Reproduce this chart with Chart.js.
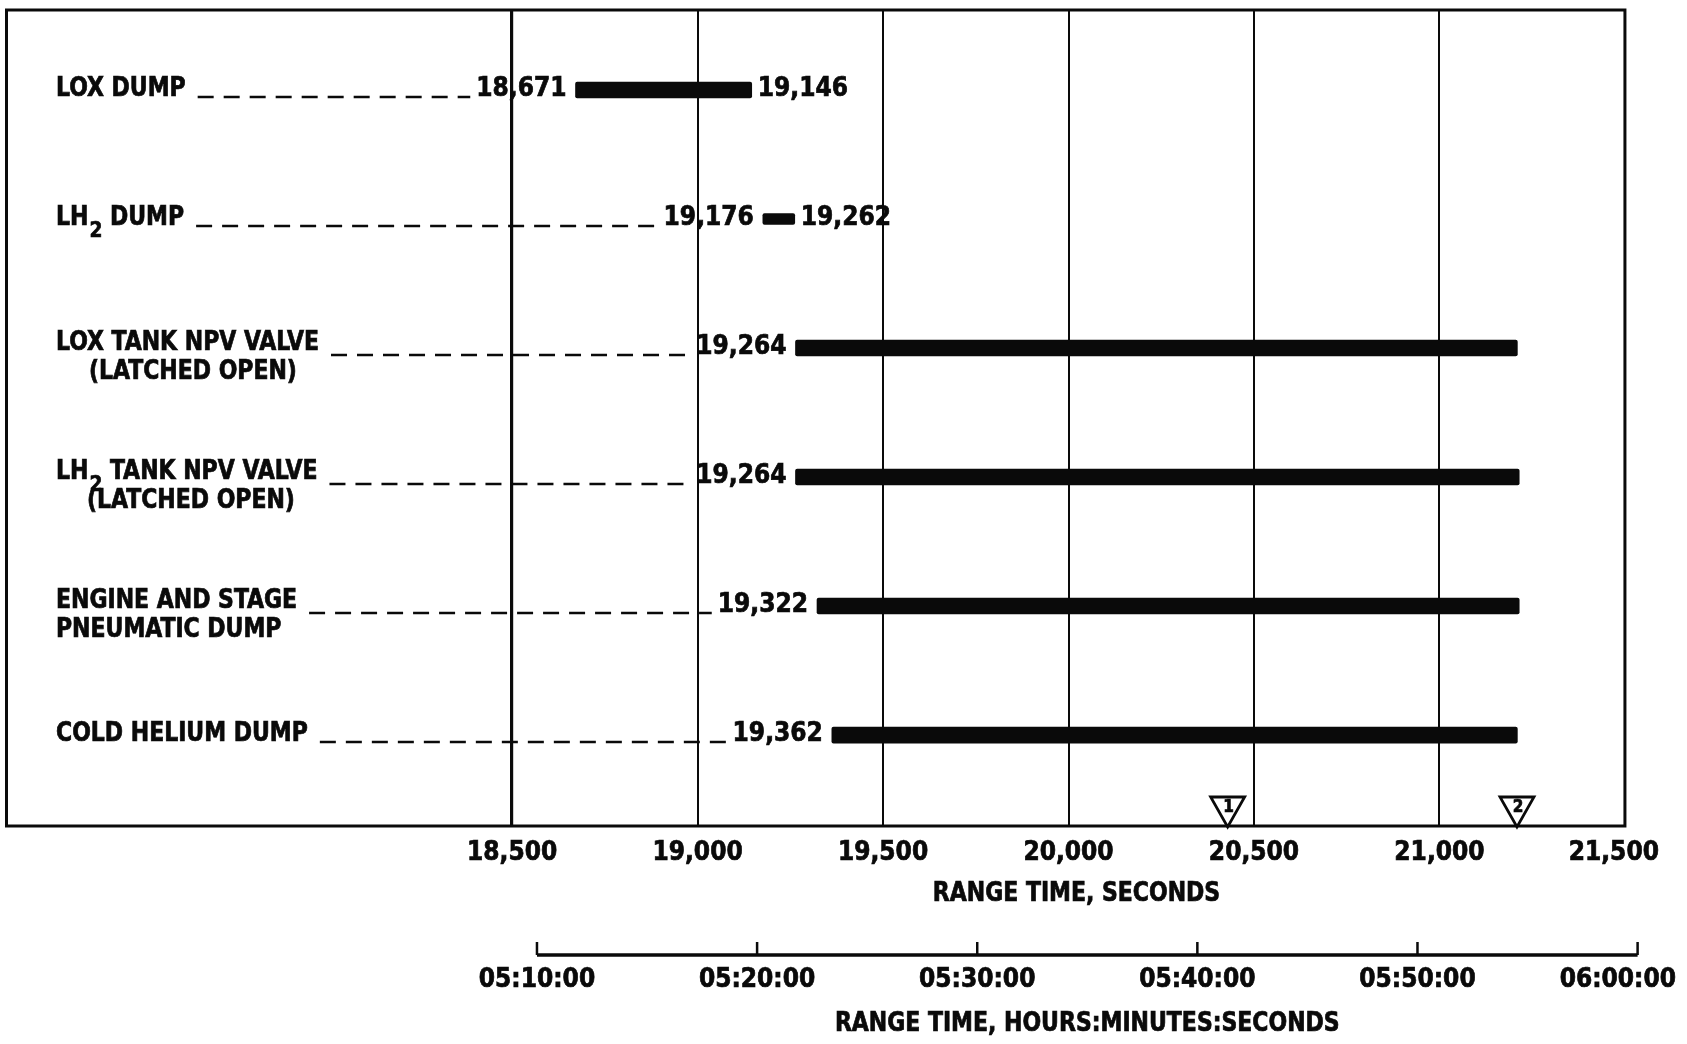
<!DOCTYPE html>
<html>
<head>
<meta charset="utf-8">
<script src="https://cdn.jsdelivr.net/npm/chart.js@4/dist/chart.umd.min.js"></script>
<style>
  html, body { margin: 0; padding: 0; background: #fff; }
  #wrap { width: 1687px; height: 1044px; }
</style>
</head>
<body>
<div id="wrap"><canvas id="c" width="1687" height="1044"></canvas></div>
<script>
// Event names, one entry per line of text
const eventNames = [
  ['LOX DUMP'],
  ['LH2 DUMP'],
  ['LOX TANK NPV VALVE', '(LATCHED OPEN)'],
  ['LH2 TANK NPV VALVE', '(LATCHED OPEN)'],
  ['ENGINE AND STAGE', 'PNEUMATIC DUMP'],
  ['COLD HELIUM DUMP']
];
// Range time, seconds
const startTimes = [18671, 19176, 19264, 19264, 19322, 19362];
const endTimes   = [19146, 19262, 21210, 21215, 21215, 21210];
const endLabelled = [true, true, false, false, false, false];
// Numbered event markers on the time axis
const markerTimes  = [20429, 21209];
const markerLabels = ['1', '2'];
// Axis ticks
const secondTicks = [18500, 19000, 19500, 20000, 20500, 21000, 21500];
const clockTicks  = [18600, 19200, 19800, 20400, 21000, 21600];
const secondsTitle = 'RANGE TIME, SECONDS';
const clockTitle   = 'RANGE TIME, HOURS:MINUTES:SECONDS';

// styling
const FONT = "'DejaVu Sans Condensed', 'Liberation Sans Narrow', 'DejaVu Sans', sans-serif";
const INK = '#0a0a0a';
const SIZE = 26;
const NAME_SQUEEZE = 0.94;
const TEXT_WEIGHT = 0.7;   // extra outline for heavier lettering
const barThickness = [16, 11, 16, 16, 16, 16];
const secondLineIndent = [0, 0, 33, 31, 0, 0];

function fmtSeconds(v) { return Number(v).toLocaleString('en-US'); }
function fmtClock(v) {
  const h = Math.floor(v / 3600), m = Math.floor((v % 3600) / 60), s = Math.round(v % 60);
  const p = n => String(n).padStart(2, '0');
  return p(h) + ':' + p(m) + ':' + p(s);
}

const datasets = eventNames.map((n, i) => ({
  label: n.join(' '),
  data: [{ x: [startTimes[i], endTimes[i]], y: i }],
  backgroundColor: INK,
  borderWidth: 0,
  borderRadius: 2,
  borderSkipped: false,
  barThickness: barThickness[i]
}));

function inkText(ctx, text, x, y) {
  ctx.fillText(text, x, y);
  ctx.lineWidth = TEXT_WEIGHT;
  ctx.strokeText(text, x, y);
}

// text squeezed horizontally about its left edge; returns the drawn width
function squeezedText(ctx, text, x, y, k) {
  ctx.save();
  ctx.translate(x, y);
  ctx.scale(k, 1);
  inkText(ctx, text, 0, 0);
  ctx.restore();
  return ctx.measureText(text).width * k;
}

// draws one name line, rendering "LH2" with a subscript 2; returns end x
function drawName(ctx, text, x, y) {
  const parts = text.split(/(LH2)/);
  let cx = x;
  ctx.textAlign = 'left';
  parts.forEach(p => {
    if (!p) return;
    ctx.font = `bold ${SIZE}px ${FONT}`;
    if (p === 'LH2') {
      cx += squeezedText(ctx, 'LH', cx, y, NAME_SQUEEZE) + 1;
      ctx.font = `bold ${SIZE - 4}px ${FONT}`;
      cx += squeezedText(ctx, '2', cx, y + 13, NAME_SQUEEZE);
    } else {
      cx += squeezedText(ctx, p, cx, y, NAME_SQUEEZE);
    }
  });
  return cx;
}

// centred tick label kept left of a limit
function tickLabel(ctx, text, px, y, limit) {
  const w = ctx.measureText(text).width;
  const cx = Math.min(px, limit - w / 2);
  inkText(ctx, text, cx, y);
}

const decor = {
  id: 'decor',
  beforeDraw(chart) {
    const { ctx, width, height } = chart;
    ctx.save();
    ctx.fillStyle = '#fff';
    ctx.fillRect(0, 0, width, height);
    ctx.restore();
  },
  afterDatasetsDraw(chart) {
    const { ctx, chartArea: ca, scales: { x, x2, y } } = chart;
    ctx.save();
    ctx.fillStyle = INK;
    ctx.strokeStyle = INK;
    ctx.textBaseline = 'middle';

    // plot frame, right edge on the last seconds tick
    const right = x.getPixelForValue(secondTicks[secondTicks.length - 1]);
    ctx.lineWidth = 3;
    ctx.setLineDash([]);
    ctx.strokeRect(ca.left + 1.5, ca.top, right - ca.left - 1.5, ca.bottom - ca.top);

    eventNames.forEach((lines, i) => {
      const yc = y.getPixelForValue(i);
      const ty = lines[1] ? yc - 5 : yc - 1;
      const textEnd = drawName(ctx, lines[0], 56, ty);
      if (lines[1]) drawName(ctx, lines[1], 56 + secondLineIndent[i], ty + 29);

      ctx.font = `bold ${SIZE}px ${FONT}`;
      const sx = x.getPixelForValue(startTimes[i]);
      const sLabel = fmtSeconds(startTimes[i]);
      ctx.textAlign = 'right';
      inkText(ctx, sLabel, sx - 9, yc - 1);
      const sw = ctx.measureText(sLabel).width;

      if (endLabelled[i]) {
        ctx.textAlign = 'left';
        inkText(ctx, fmtSeconds(endTimes[i]), x.getPixelForValue(endTimes[i]) + 6, yc - 1);
      }

      // dashed leader from the name to the start time
      ctx.lineWidth = 2.6;
      ctx.setLineDash([16, 10]);
      ctx.beginPath();
      ctx.moveTo(textEnd + 12, yc + 7);
      ctx.lineTo(sx - 9 - sw - 6, yc + 7);
      ctx.stroke();
      ctx.setLineDash([]);
    });

    // numbered triangles sitting on the bottom frame
    markerTimes.forEach((t, k) => {
      const mx = x.getPixelForValue(t);
      const tip = ca.bottom + 1;
      const hw = 17, h = 30;
      ctx.beginPath();
      ctx.moveTo(mx - hw, tip - h);
      ctx.lineTo(mx + hw, tip - h);
      ctx.lineTo(mx, tip);
      ctx.closePath();
      ctx.fillStyle = '#fff';
      ctx.fill();
      ctx.lineWidth = 2.8;
      ctx.stroke();
      ctx.fillStyle = INK;
      ctx.textAlign = 'center';
      ctx.font = `bold 17px ${FONT}`;
      inkText(ctx, markerLabels[k], mx + 1, tip - h + 11);
    });

    // seconds tick labels
    ctx.font = `bold ${SIZE}px ${FONT}`;
    ctx.textAlign = 'center';
    secondTicks.forEach(v => tickLabel(ctx, fmtSeconds(v), x.getPixelForValue(v), ca.bottom + 27, right + 34));

    // clock-time axis line with upward tick marks
    const ay = x2.top + 47;
    const x0 = x2.getPixelForValue(clockTicks[0]);
    const x1 = x2.getPixelForValue(clockTicks[clockTicks.length - 1]);
    ctx.lineWidth = 3.5;
    ctx.beginPath();
    ctx.moveTo(x0, ay);
    ctx.lineTo(x1, ay);
    ctx.stroke();
    ctx.lineWidth = 2.5;
    clockTicks.forEach(v => {
      const px = x2.getPixelForValue(v);
      ctx.beginPath();
      ctx.moveTo(px, ay);
      ctx.lineTo(px, ay - 13);
      ctx.stroke();
    });
    clockTicks.forEach(v => tickLabel(ctx, fmtClock(v), x2.getPixelForValue(v), ay + 25, chart.width - 11));

    // axis titles, centred under their tick ranges
    const xm = (x.getPixelForValue(secondTicks[0]) + right) / 2;
    const t1w = ctx.measureText(secondsTitle).width * NAME_SQUEEZE;
    ctx.textAlign = 'left';
    squeezedText(ctx, secondsTitle, xm + 8 - t1w / 2, 894, NAME_SQUEEZE);
    const t2w = ctx.measureText(clockTitle).width * NAME_SQUEEZE;
    squeezedText(ctx, clockTitle, (x0 + x1) / 2 - t2w / 2, 1024, NAME_SQUEEZE);
    ctx.restore();
  }
};

new Chart(document.getElementById('c'), {
  type: 'bar',
  data: { datasets },
  options: {
    responsive: false,
    animation: false,
    indexAxis: 'y',
    grouped: false,
    layout: { autoPadding: false, padding: { top: 10, left: 5, right: 45, bottom: 0 } },
    plugins: { legend: { display: false }, tooltip: { enabled: false } },
    scales: {
      y: {
        type: 'linear', min: -0.62, max: 5.705, reverse: true, offset: false, display: false
      },
      x: {
        type: 'linear', position: 'bottom', min: 17133, max: 21546,
        afterBuildTicks: s => { s.ticks = secondTicks.map(v => ({ value: v })); },
        afterFit: s => { s.height = 82; s.paddingLeft = 0; s.paddingRight = 0; },
        ticks: { display: false },
        grid: {
          color: INK, drawTicks: false,
          lineWidth: c => (c.tick && c.tick.value === secondTicks[0]) ? 3.2 : 2
        },
        border: { display: false }
      },
      x2: {
        type: 'linear', position: 'bottom', min: 17150, max: 21612,
        afterBuildTicks: s => { s.ticks = clockTicks.map(v => ({ value: v })); },
        afterFit: s => { s.height = 136; s.paddingLeft = 0; s.paddingRight = 0; },
        ticks: { display: false },
        grid: { display: false, drawTicks: false },
        border: { display: false }
      }
    }
  },
  plugins: [decor]
});
</script>
</body>
</html>
